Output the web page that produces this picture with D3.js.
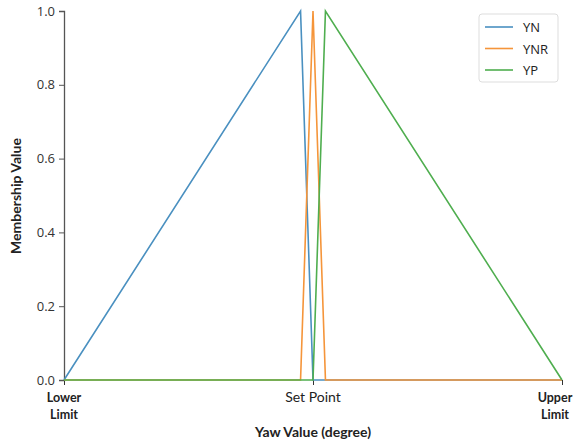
<!DOCTYPE html>
<html>
<head>
<meta charset="utf-8">
<script src="https://cdn.jsdelivr.net/npm/d3@7"></script>
<style>
  html, body { margin: 0; padding: 0; background: #fff; }
  svg { display: block; }
</style>
</head>
<body>
<svg id="chart" width="574" height="443"></svg>
<script>
// Triangular membership functions over the normalised yaw range [-1, 1]
const seriesNames = ["YN", "YNR", "YP"];
const seriesColors = ["#4a90c0", "#f5953a", "#4fae4f"];
const ynX = [-1, -0.05, 0, 1];
const ynY = [0, 1, 0, 0];
const ynrX = [-1, -0.05, 0, 0.05, 1];
const ynrY = [0, 0, 1, 0, 0];
const ypX = [-1, 0, 0.05, 1];
const ypY = [0, 0, 1, 0];
const yTicks = [0, 0.2, 0.4, 0.6, 0.8, 1.0];
const xTickValues = [-1, 0, 1];
const xTickLabels = [["Lower", "Limit"], ["Set Point"], ["Upper", "Limit"]];

const series = [
  { name: seriesNames[0], color: seriesColors[0], pts: ynX.map((x, i) => [x, ynY[i]]) },
  { name: seriesNames[1], color: seriesColors[1], pts: ynrX.map((x, i) => [x, ynrY[i]]) },
  { name: seriesNames[2], color: seriesColors[2], pts: ypX.map((x, i) => [x, ypY[i]]) }
];

const svg = d3.select("#chart");
const x = d3.scaleLinear().domain([-1, 1]).range([64, 562]);
const y = d3.scaleLinear().domain([0, 1]).range([380, 11]);

// Left axis with spine
const yAxis = svg.append("g")
  .attr("transform", "translate(64,0)")
  .call(d3.axisLeft(y).tickValues(yTicks).tickFormat(d3.format(".1f")).tickSize(5).tickPadding(4));
yAxis.select(".domain").attr("stroke", "#555").attr("stroke-width", 1.3);
yAxis.selectAll(".tick line").attr("stroke", "#555");
yAxis.selectAll(".tick text")
  .attr("fill", "#333")
  .style("font-family", "'Open Sans', sans-serif")
  .style("font-size", "13px");

// Bottom ticks (no spine)
const xAxis = svg.append("g")
  .attr("transform", "translate(0,380)")
  .call(d3.axisBottom(x).tickValues(xTickValues).tickFormat("").tickSize(5));
xAxis.select(".domain").remove();
xAxis.selectAll(".tick line").attr("stroke", "#333");

// Membership lines
const line = d3.line().x(d => x(d[0])).y(d => y(d[1]));
svg.append("g").selectAll("path")
  .data(series)
  .join("path")
  .attr("d", d => line(d.pts))
  .attr("fill", "none")
  .attr("stroke", d => d.color)
  .attr("stroke-width", 1.6);

// X tick labels (the last one is nudged inward to stay on the canvas)
const labelShift = [0, 0, -7];
xTickValues.forEach((v, i) => {
  const lines = xTickLabels[i];
  const cx = x(v) + labelShift[i];
  const t = svg.append("text")
    .attr("x", cx)
    .attr("text-anchor", "middle")
    .attr("fill", "#222")
    .style("font-family", "Lato, sans-serif");
  if (lines.length === 1) {
    t.attr("y", 402).style("font-size", "14px").text(lines[0]);
  } else {
    t.style("font-size", "12.5px").style("font-weight", "bold");
    lines.forEach((s, k) => {
      t.append("tspan").attr("x", cx).attr("y", 402 + k * 17).text(s);
    });
  }
});

// Axis titles
svg.append("text")
  .attr("x", 313).attr("y", 437)
  .attr("text-anchor", "middle")
  .attr("fill", "#222")
  .style("font-family", "Lato, sans-serif")
  .style("font-size", "14px").style("font-weight", "bold")
  .text("Yaw Value (degree)");

svg.append("text")
  .attr("transform", "translate(21,196) rotate(-90)")
  .attr("text-anchor", "middle")
  .attr("fill", "#222")
  .style("font-family", "Lato, sans-serif")
  .style("font-size", "14px").style("font-weight", "bold")
  .text("Membership Value");

// Legend
const lg = svg.append("g").attr("transform", "translate(479,14)");
lg.append("rect")
  .attr("width", 79).attr("height", 68).attr("rx", 3)
  .attr("fill", "#fff").attr("stroke", "#ddd");
series.forEach((s, i) => {
  const yy = 13 + i * 21.5;
  lg.append("line").attr("x1", 6).attr("x2", 34).attr("y1", yy).attr("y2", yy)
    .attr("stroke", s.color).attr("stroke-width", 1.6);
  lg.append("text").attr("x", 44).attr("y", yy + 5)
    .attr("fill", "#222")
    .style("font-family", "'Open Sans', sans-serif")
    .style("font-size", "13px")
    .text(s.name);
});
</script>
</body>
</html>
